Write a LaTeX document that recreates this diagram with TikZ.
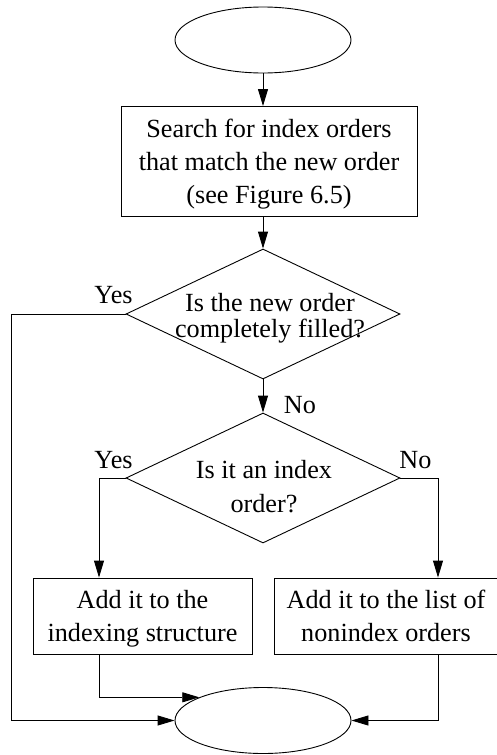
\documentclass[tikz,border=0pt]{standalone}
\usepackage{fontspec}
\setmainfont{Liberation Serif}
\usetikzlibrary{shapes.geometric,arrows.meta,calc}
\begin{document}
\begin{tikzpicture}[x=1pt,y=-1pt,
  every node/.style={font=\fontsize{26.2}{33}\selectfont},
  flow/.style={line width=0.9pt, draw=black},
  arr/.style={flow, -{Triangle[length=17pt,width=10pt]}},
  term/.style={ellipse, draw, line width=0.9pt, minimum width=176pt, minimum height=66pt, inner sep=0pt},
  procbox/.style={rectangle, draw, line width=0.9pt, align=center, inner sep=0pt, text depth=0pt},
  decision/.style={diamond, draw, line width=0.9pt, minimum width=274pt, minimum height=130pt, inner sep=0pt},
  qtext/.style={align=center, inner sep=0pt, text depth=0pt},
  lbl/.style={inner sep=0pt}]
\useasboundingbox (0,0) rectangle (497,755);

% terminals
\node[term] (s) at (263,40) {};
\node[term] (e) at (263,720.5) {};

% search step
\node[procbox, minimum width=296pt, minimum height=110pt] (b1) at (269,161.5)
  {Search for index orders\\that match the new order\\(see Figure 6.5)};

% decisions
\node[decision] (d1) at (263,314) {};
\node[qtext, font=\fontsize{26.2}{26}\selectfont] (q1) at (270,315) {Is the new order\\completely filled?};
\node[decision] (d2) at (263,478) {};
\node[qtext, font=\fontsize{26.2}{34}\selectfont] (q2) at (264,486) {Is it an index\\order?};

% actions
\node[procbox, minimum width=219pt, minimum height=76pt] (b2) at (142.5,616)
  {Add it to the\\indexing structure};
\node[procbox, minimum width=224pt, minimum height=76pt] (b3) at (386,616)
  {Add it to the list of\\nonindex orders};

% branch labels
\node[lbl] (yes1) at ($(d1.west)+(-12,-18.5)$) {Yes};
\node[lbl] (no1)  at ($(d1.south)+(37,26)$) {No};
\node[lbl] (yes2) at ($(d2.west)+(-12,-18)$) {Yes};
\node[lbl] (no2)  at ($(d2.east)+(15,-18)$) {No};

% routing points
\coordinate (lft) at (11,314);
\coordinate (yl) at (99,478);
\coordinate (nr) at (438,478);

% connectors
\draw[arr] (s.south) -- (s.south |- b1.north);
\draw[arr] (b1.south -| d1.north) -- (d1.north);
\draw[arr] (d1.south) -- (d2.north);
\draw[arr] (d1.west) -- (lft) |- (e.west);
\draw[arr] (d2.west) -- (yl) -- (yl |- b2.north);
\draw[arr] (d2.east) -- (nr) -- (nr |- b3.north);
\draw[arr] (yl |- b2.south) |- (e.160.5);
\draw[arr] (nr |- b3.south) |- (e.east);
\end{tikzpicture}
\end{document}
